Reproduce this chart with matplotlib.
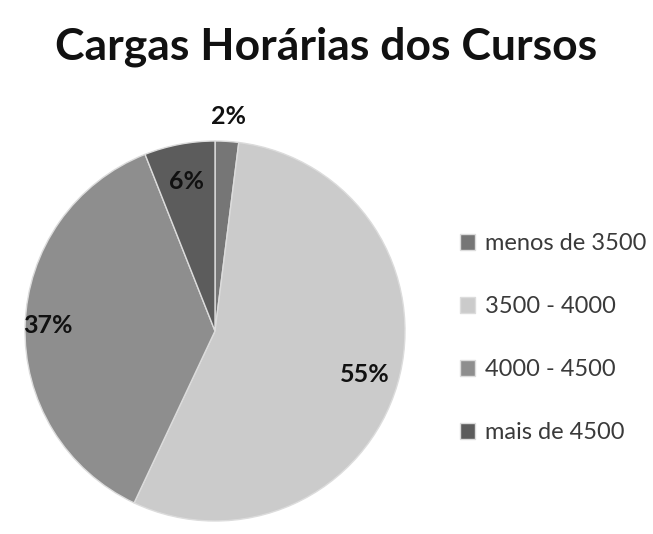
import numpy as np
import matplotlib.pyplot as plt

# data
categories = ["menos de 3500", "3500 - 4000", "4000 - 4500", "mais de 4500"]
values = [2, 55, 37, 6]
colors = ["#767676", "#cbcbcb", "#8e8e8e", "#5c5c5c"]

plt.rcParams['font.family'] = ['Lato', 'DejaVu Sans']

fig = plt.figure(figsize=(6.53, 5.34), dpi=100)
fig.text(0.5, 0.913, "Cargas Horárias dos Cursos", ha="center", va="center",
         fontsize=32, fontweight="bold", color="#111111")

ax = fig.add_axes([25 / 653, 13 / 534, 380 / 653, 380 / 534])
wedges, texts, autotexts = ax.pie(values, colors=colors, startangle=90, counterclock=False,
                                  autopct="%d%%", pctdistance=0.84,
                                  wedgeprops=dict(edgecolor="#dcdcdc", linewidth=1.0),
                                  textprops=dict(fontsize=18, fontweight="bold", color="#111111"))

# move small slice label outside
radii = [1.13, 0.82, 0.88, 0.80]
for w, t, r in zip(wedges, autotexts, radii):
    ang = np.deg2rad((w.theta1 + w.theta2) / 2)
    t.set_position((r * np.cos(ang), r * np.sin(ang)))
    t.set_clip_on(False)

ax.set_xlim(-1, 1)
ax.set_ylim(-1, 1)
ax.set_aspect("equal")
ax.axis("off")

fig.legend(wedges, categories, loc="center left", bbox_to_anchor=(0.672, 0.367),
           frameon=False, fontsize=17, labelspacing=1.78, handlelength=0.65,
           handleheight=0.65, handletextpad=0.4, labelcolor="#3a3a3a")

fig.savefig("out.png", dpi=100)
